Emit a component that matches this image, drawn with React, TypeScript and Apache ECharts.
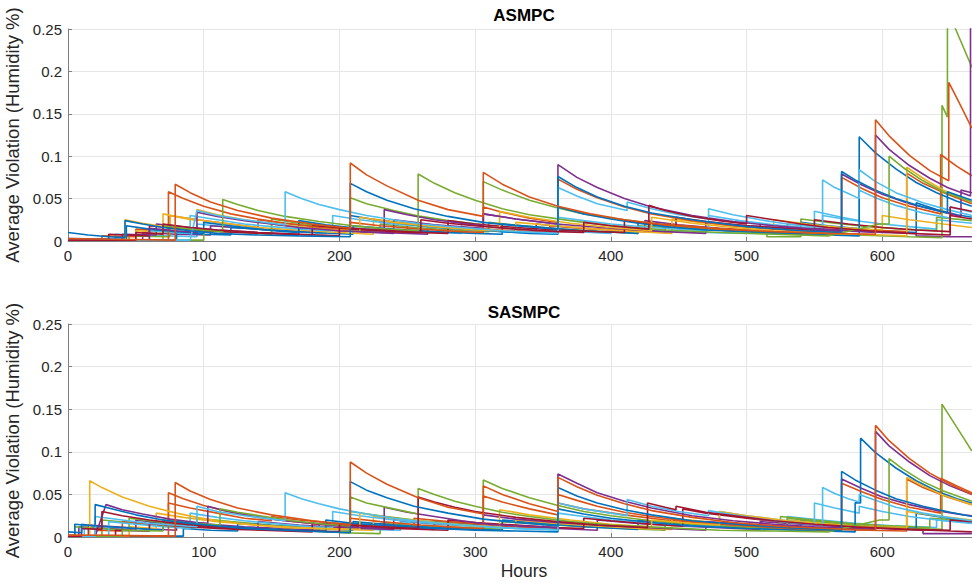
import React, { useEffect, useRef } from "react";
import * as echarts from "echarts";

// ---------- tick labels / axes ----------
const xTicks = [0, 100, 200, 300, 400, 500, 600];
const yTicks = [0, 0.05, 0.1, 0.15, 0.2, 0.25];
const panelTitles = ["ASMPC", "SASMPC"];
const xLabel = "Hours";
const yLabel = "Average Violation (Humidity %)";

// ---------- ASMPC series (flat x,y pairs) ----------
const aBlue1 = [0,0.010, 15,0.007, 30,0.005, 42,0.004, 42,0.024, 55,0.020, 70,0.016, 90,0.012, 110,0.009, 140,0.007, 170,0.006, 208,0.005, 208,0.068, 220,0.058, 235,0.048, 255,0.038, 280,0.029, 306,0.022, 330,0.018, 361,0.014, 361,0.076, 375,0.063, 390,0.052, 410,0.041, 430,0.033, 460,0.025, 500,0.017, 540,0.012, 570,0.010, 570,0.082, 580,0.072, 595,0.060, 610,0.050, 630,0.040, 648,0.033, 648,0.058, 666,0.048];
const aOrange1 = [0,0.003, 30,0.002, 79,0.001, 79,0.067, 90,0.057, 105,0.046, 125,0.036, 150,0.027, 180,0.020, 208,0.015, 208,0.092, 220,0.078, 235,0.065, 258,0.048, 280,0.037, 306,0.029, 306,0.081, 320,0.067, 340,0.052, 361,0.041, 385,0.032, 410,0.025, 440,0.019, 480,0.014, 520,0.011, 560,0.009, 595,0.008, 595,0.143, 605,0.124, 620,0.101, 635,0.083, 649,0.071, 649,0.187, 657,0.162, 666,0.133];
const aYellow1 = [0,0.002, 42,0.001, 42,0.025, 55,0.021, 70,0.017, 70,0.032, 85,0.027, 95,0.024, 95,0.037, 110,0.031, 130,0.025, 150,0.020, 180,0.015, 215,0.011, 215,0.028, 240,0.022, 270,0.017, 300,0.013, 318,0.012, 318,0.035, 340,0.028, 370,0.021, 400,0.016, 430,0.012, 430,0.028, 460,0.021, 490,0.016, 520,0.012, 560,0.009, 600,0.007, 618,0.006, 618,0.087, 630,0.074, 645,0.060, 666,0.046];
const aPurple1 = [0,0.002, 60,0.001, 60,0.015, 80,0.012, 95,0.010, 95,0.034, 110,0.029, 130,0.024, 150,0.020, 170,0.016, 200,0.012, 233,0.010, 233,0.037, 250,0.031, 270,0.025, 290,0.021, 306,0.018, 306,0.032, 330,0.026, 361,0.020, 361,0.090, 375,0.075, 390,0.063, 410,0.050, 430,0.040, 460,0.030, 490,0.023, 520,0.018, 550,0.014, 595,0.010, 595,0.125, 605,0.108, 620,0.089, 635,0.074, 648,0.063, 665,0.053, 665,0.300];
const aGreen1 = [0,0.001, 70,0.001, 70,0.018, 90,0.014, 114,0.011, 114,0.049, 125,0.043, 140,0.036, 160,0.029, 185,0.023, 210,0.018, 235,0.014, 258,0.012, 258,0.079, 270,0.068, 285,0.057, 300,0.048, 320,0.038, 340,0.031, 370,0.024, 400,0.018, 440,0.013, 480,0.010, 520,0.008, 560,0.006, 598,0.020, 605,0.020, 605,0.100, 615,0.087, 630,0.071, 645,0.058, 666,0.046];
const aCyan1 = [0,0.001, 90,0.001, 95,0.036, 110,0.030, 130,0.025, 160,0.019, 160,0.058, 172,0.050, 185,0.043, 200,0.037, 220,0.030, 240,0.025, 260,0.020, 290,0.016, 320,0.012, 361,0.009, 361,0.063, 375,0.053, 390,0.044, 412,0.036, 412,0.046, 430,0.038, 450,0.031, 472,0.026, 472,0.038, 490,0.031, 510,0.025, 530,0.020, 556,0.016, 556,0.072, 565,0.063, 575,0.056, 583,0.050, 583,0.084, 595,0.070, 610,0.057, 630,0.045, 648,0.037, 666,0.030];
const aRed1 = [0,0.001, 50,0.001, 50,0.010, 70,0.008, 70,0.020, 90,0.016, 110,0.013, 140,0.010, 170,0.008, 200,0.006, 200,0.016, 230,0.013, 260,0.010, 260,0.025, 280,0.021, 300,0.018, 330,0.014, 360,0.011, 380,0.010, 380,0.022, 400,0.018, 428,0.014, 428,0.042, 440,0.036, 460,0.029, 480,0.024, 500,0.020, 500,0.030, 520,0.025, 540,0.020, 560,0.016, 590,0.012, 620,0.009, 650,0.007, 650,0.040, 666,0.035];
const aBlue2 = [0,0.003, 43,0.002, 43,0.018, 60,0.014, 80,0.011, 100,0.009, 100,0.022, 120,0.018, 140,0.014, 160,0.011, 170,0.010, 170,0.024, 190,0.019, 208,0.016, 208,0.030, 230,0.024, 255,0.019, 280,0.015, 310,0.012, 340,0.009, 361,0.008, 361,0.040, 380,0.032, 400,0.026, 420,0.021, 440,0.017, 470,0.013, 500,0.011, 530,0.009, 560,0.007, 583,0.006, 583,0.123, 595,0.104, 610,0.085, 625,0.069, 640,0.057, 655,0.047, 666,0.041];
const aOrange2 = [0,0.002, 74,0.001, 74,0.058, 85,0.050, 100,0.041, 120,0.032, 140,0.026, 160,0.021, 185,0.016, 208,0.013, 208,0.022, 230,0.018, 260,0.014, 290,0.011, 306,0.010, 306,0.040, 320,0.034, 340,0.027, 361,0.022, 361,0.073, 375,0.061, 390,0.051, 410,0.040, 430,0.032, 460,0.024, 490,0.018, 520,0.014, 550,0.011, 570,0.010, 570,0.075, 585,0.062, 600,0.051, 620,0.041, 643,0.032, 643,0.102, 655,0.088, 666,0.077];
const aGreen2 = [0,0.001, 100,0.001, 100,0.012, 130,0.010, 150,0.008, 150,0.026, 170,0.021, 190,0.017, 208,0.015, 208,0.051, 220,0.044, 240,0.036, 260,0.029, 280,0.024, 306,0.019, 306,0.070, 320,0.060, 340,0.048, 361,0.039, 380,0.032, 400,0.027, 430,0.021, 460,0.016, 500,0.012, 540,0.009, 580,0.007, 620,0.005, 644,0.004, 644,0.160, 648,0.146, 648,0.270, 654,0.250, 666,0.205];
const aCyan2 = [0,0.001, 60,0.001, 60,0.012, 90,0.009, 90,0.030, 110,0.025, 130,0.020, 150,0.017, 180,0.013, 195,0.012, 195,0.030, 215,0.025, 240,0.020, 270,0.016, 300,0.013, 330,0.010, 361,0.009, 361,0.028, 380,0.024, 400,0.020, 430,0.016, 460,0.013, 472,0.012, 472,0.030, 495,0.024, 520,0.019, 550,0.015, 550,0.035, 570,0.028, 583,0.024, 583,0.060, 595,0.051, 610,0.042, 630,0.033, 650,0.027, 650,0.040, 666,0.034];
const aPurple2 = [0,0.001, 40,0.001, 40,0.008, 65,0.007, 65,0.020, 90,0.016, 110,0.013, 140,0.010, 170,0.008, 170,0.015, 200,0.012, 240,0.009, 240,0.025, 270,0.019, 306,0.015, 306,0.032, 330,0.026, 360,0.020, 400,0.015, 440,0.011, 470,0.009, 470,0.022, 500,0.018, 540,0.014, 570,0.011, 570,0.079, 585,0.066, 600,0.055, 620,0.044, 640,0.036, 658,0.029, 658,0.060, 666,0.057];
const aRed2 = [0,0.001, 30,0.001, 30,0.008, 60,0.006, 60,0.018, 80,0.015, 100,0.012, 125,0.010, 160,0.008, 180,0.007, 180,0.018, 210,0.014, 240,0.011, 280,0.009, 280,0.024, 300,0.020, 330,0.016, 360,0.013, 390,0.011, 410,0.010, 410,0.024, 430,0.020, 448,0.018, 448,0.028, 470,0.023, 500,0.018, 530,0.015, 550,0.013, 550,0.025, 575,0.020, 600,0.016, 625,0.013, 650,0.011, 650,0.030, 666,0.026];
const aYellow2 = [0,0.001, 50,0.001, 50,0.012, 75,0.010, 75,0.030, 95,0.025, 120,0.020, 140,0.016, 170,0.013, 200,0.010, 225,0.008, 225,0.026, 245,0.022, 270,0.018, 300,0.014, 330,0.011, 330,0.022, 360,0.018, 390,0.014, 420,0.011, 445,0.009, 445,0.026, 470,0.021, 500,0.016, 520,0.014, 520,0.025, 545,0.020, 570,0.016, 600,0.013, 600,0.030, 620,0.025, 645,0.020, 666,0.016];
const aBlue3 = [0,0.001, 80,0.001, 80,0.010, 100,0.008, 120,0.007, 120,0.016, 150,0.013, 180,0.010, 210,0.008, 210,0.018, 240,0.014, 270,0.011, 300,0.009, 320,0.008, 320,0.020, 350,0.016, 380,0.012, 420,0.009, 420,0.022, 450,0.017, 480,0.013, 510,0.010, 540,0.008, 540,0.022, 560,0.018, 580,0.015, 600,0.012, 625,0.010, 625,0.045, 640,0.037, 655,0.031, 666,0.028];
const aOrange3 = [0,0.001, 25,0.001, 25,0.006, 50,0.005, 50,0.014, 75,0.011, 75,0.030, 95,0.025, 120,0.020, 140,0.016, 140,0.025, 160,0.021, 190,0.016, 220,0.013, 250,0.010, 250,0.022, 275,0.018, 300,0.015, 330,0.012, 355,0.010, 355,0.018, 380,0.015, 410,0.012, 440,0.010, 440,0.020, 470,0.016, 500,0.013, 530,0.010, 530,0.020, 560,0.016, 590,0.013, 618,0.011, 618,0.080, 630,0.068, 648,0.055, 666,0.044];
const aCyan3 = [0,0.001, 35,0.001, 35,0.008, 55,0.007, 95,0.005, 95,0.020, 115,0.017, 140,0.014, 165,0.011, 190,0.009, 190,0.018, 215,0.015, 245,0.012, 275,0.010, 290,0.009, 290,0.020, 315,0.016, 345,0.013, 375,0.011, 400,0.009, 400,0.016, 430,0.013, 470,0.010, 500,0.009, 500,0.018, 530,0.015, 556,0.012, 556,0.030, 575,0.025, 600,0.020, 620,0.017, 640,0.014, 640,0.025, 666,0.021];
const aPurple3 = [0,0.001, 55,0.001, 55,0.010, 80,0.008, 105,0.007, 105,0.018, 130,0.015, 160,0.012, 185,0.010, 185,0.014, 215,0.011, 250,0.009, 265,0.008, 265,0.018, 290,0.015, 320,0.012, 345,0.010, 345,0.020, 370,0.016, 400,0.013, 425,0.011, 425,0.024, 450,0.019, 480,0.015, 510,0.012, 510,0.020, 540,0.016, 570,0.013, 600,0.010, 625,0.009, 625,0.006, 650,0.005, 666,0.005];
const aGreen3 = [0,0.001, 45,0.001, 45,0.006, 75,0.005, 75,0.016, 100,0.013, 125,0.011, 150,0.009, 150,0.020, 175,0.016, 205,0.013, 230,0.011, 230,0.020, 255,0.016, 285,0.013, 310,0.011, 310,0.022, 335,0.018, 365,0.014, 395,0.011, 420,0.009, 420,0.018, 450,0.015, 485,0.012, 515,0.010, 515,0.005, 540,0.005, 540,0.026, 565,0.021, 590,0.017, 615,0.014, 640,0.012, 640,0.028, 666,0.024];

// ---------- SASMPC series (flat x,y pairs) ----------
const sBlue1 = [0,0.006, 10,0.005, 10,0.015, 20,0.013, 20,0.038, 35,0.032, 50,0.026, 70,0.020, 90,0.016, 110,0.013, 130,0.010, 160,0.008, 190,0.006, 208,0.005, 208,0.065, 220,0.055, 235,0.046, 255,0.036, 280,0.028, 306,0.021, 330,0.017, 361,0.013, 361,0.058, 375,0.048, 390,0.040, 410,0.032, 430,0.026, 460,0.019, 500,0.014, 540,0.010, 570,0.008, 570,0.077, 580,0.067, 595,0.055, 610,0.045, 630,0.036, 650,0.029, 666,0.024];
const sOrange1 = [0,0.002, 30,0.002, 79,0.001, 79,0.064, 90,0.054, 105,0.044, 125,0.034, 150,0.026, 180,0.019, 208,0.014, 208,0.088, 220,0.075, 235,0.062, 258,0.046, 280,0.035, 306,0.027, 306,0.060, 320,0.050, 340,0.039, 361,0.030, 361,0.070, 375,0.059, 390,0.049, 410,0.039, 430,0.031, 460,0.023, 490,0.017, 530,0.012, 560,0.010, 595,0.008, 595,0.131, 605,0.113, 620,0.092, 635,0.075, 650,0.062, 666,0.050];
const sYellow1 = [0,0.001, 16,0.001, 16,0.066, 25,0.058, 40,0.047, 60,0.036, 80,0.028, 95,0.023, 110,0.019, 130,0.015, 160,0.011, 215,0.009, 215,0.028, 240,0.022, 270,0.017, 300,0.013, 318,0.012, 318,0.032, 340,0.026, 370,0.020, 400,0.015, 430,0.012, 430,0.020, 460,0.016, 480,0.014, 480,0.030, 500,0.025, 530,0.019, 560,0.015, 600,0.011, 618,0.010, 618,0.070, 630,0.060, 645,0.049, 666,0.038];
const sPurple1 = [0,0.001, 20,0.001, 28,0.038, 40,0.032, 55,0.027, 75,0.021, 95,0.017, 103,0.016, 103,0.036, 115,0.031, 135,0.025, 155,0.020, 180,0.016, 205,0.012, 233,0.010, 233,0.035, 250,0.029, 270,0.024, 290,0.019, 310,0.015, 330,0.013, 361,0.011, 361,0.074, 375,0.063, 390,0.052, 410,0.042, 430,0.034, 460,0.025, 490,0.019, 520,0.015, 550,0.012, 595,0.009, 595,0.124, 605,0.107, 620,0.088, 635,0.072, 650,0.060, 666,0.050];
const sGreen1 = [0,0.001, 40,0.001, 40,0.008, 70,0.007, 70,0.020, 90,0.016, 112,0.014, 112,0.033, 125,0.029, 145,0.024, 165,0.019, 190,0.015, 208,0.013, 208,0.047, 220,0.040, 240,0.033, 258,0.027, 258,0.057, 270,0.050, 285,0.042, 300,0.036, 320,0.029, 340,0.024, 370,0.018, 400,0.014, 440,0.011, 480,0.008, 520,0.007, 560,0.006, 598,0.020, 605,0.020, 605,0.092, 615,0.080, 630,0.065, 645,0.054, 666,0.042];
const sCyan1 = [0,0.001, 20,0.001, 20,0.024, 40,0.020, 60,0.016, 95,0.012, 95,0.036, 110,0.030, 130,0.025, 160,0.019, 160,0.052, 172,0.045, 185,0.039, 200,0.033, 220,0.027, 240,0.022, 260,0.018, 290,0.014, 320,0.011, 361,0.008, 361,0.040, 380,0.033, 400,0.028, 412,0.025, 412,0.044, 430,0.036, 450,0.030, 472,0.025, 472,0.031, 490,0.026, 510,0.021, 530,0.017, 556,0.014, 556,0.058, 565,0.051, 575,0.045, 583,0.041, 583,0.050, 595,0.043, 610,0.035, 630,0.028, 648,0.023, 666,0.019];
const sRed1 = [0,0.001, 10,0.001, 10,0.010, 25,0.009, 25,0.030, 40,0.025, 60,0.020, 80,0.016, 100,0.013, 130,0.010, 160,0.008, 200,0.006, 200,0.015, 230,0.012, 258,0.010, 258,0.047, 270,0.041, 285,0.035, 300,0.030, 330,0.023, 360,0.018, 390,0.014, 427,0.011, 427,0.040, 440,0.035, 448,0.032, 448,0.036, 470,0.029, 500,0.023, 520,0.019, 550,0.015, 580,0.012, 620,0.009, 650,0.007, 666,0.006];
const sBlue2 = [0,0.002, 5,0.002, 5,0.015, 20,0.013, 40,0.011, 60,0.009, 70,0.008, 70,0.020, 90,0.016, 110,0.013, 140,0.010, 170,0.008, 190,0.007, 190,0.020, 210,0.016, 240,0.013, 270,0.010, 300,0.008, 330,0.007, 361,0.006, 361,0.033, 380,0.027, 400,0.022, 430,0.017, 460,0.013, 500,0.010, 540,0.008, 580,0.006, 580,0.040, 584,0.040, 584,0.116, 595,0.099, 610,0.081, 625,0.066, 640,0.054, 655,0.045, 666,0.040];
const sOrange2 = [0,0.002, 74,0.001, 74,0.052, 85,0.045, 100,0.037, 120,0.029, 140,0.023, 160,0.019, 185,0.015, 208,0.012, 208,0.022, 230,0.018, 260,0.014, 290,0.011, 306,0.010, 306,0.048, 320,0.041, 340,0.033, 361,0.026, 361,0.050, 375,0.043, 390,0.036, 410,0.029, 430,0.024, 460,0.018, 490,0.014, 520,0.011, 550,0.009, 570,0.008, 570,0.063, 585,0.053, 600,0.044, 620,0.035, 643,0.028, 643,0.069, 655,0.060, 666,0.052];
const sGreen2 = [0,0.001, 5,0.001, 5,0.012, 25,0.010, 45,0.008, 45,0.022, 65,0.018, 85,0.015, 110,0.012, 140,0.009, 170,0.007, 208,0.006, 208,0.030, 230,0.025, 260,0.019, 290,0.015, 306,0.013, 306,0.067, 320,0.057, 340,0.046, 361,0.037, 380,0.030, 400,0.025, 430,0.019, 460,0.015, 500,0.011, 530,0.010, 530,0.022, 560,0.017, 590,0.013, 620,0.010, 644,0.009, 644,0.156, 650,0.141, 660,0.116, 666,0.101];
const sCyan2 = [0,0.001, 30,0.001, 30,0.018, 50,0.015, 70,0.012, 90,0.010, 90,0.028, 110,0.023, 130,0.019, 150,0.016, 180,0.012, 195,0.011, 195,0.030, 215,0.025, 240,0.020, 270,0.016, 300,0.013, 330,0.010, 361,0.009, 361,0.028, 380,0.024, 400,0.020, 430,0.016, 460,0.013, 480,0.012, 480,0.030, 500,0.025, 525,0.020, 550,0.016, 550,0.040, 565,0.034, 583,0.028, 583,0.036, 600,0.030, 620,0.024, 645,0.019, 666,0.016];
const sPurple2 = [0,0.001, 8,0.001, 8,0.012, 30,0.010, 50,0.008, 50,0.020, 70,0.016, 90,0.013, 115,0.011, 140,0.009, 140,0.018, 170,0.014, 200,0.011, 240,0.009, 240,0.020, 270,0.016, 306,0.013, 306,0.026, 330,0.021, 360,0.017, 400,0.013, 440,0.010, 470,0.008, 470,0.018, 500,0.015, 540,0.012, 570,0.010, 570,0.068, 585,0.057, 600,0.047, 620,0.038, 640,0.031, 660,0.026, 666,0.025];
const sRed2 = [0,0.001, 35,0.001, 35,0.008, 60,0.007, 60,0.016, 80,0.013, 100,0.011, 125,0.009, 160,0.007, 180,0.006, 180,0.016, 210,0.013, 240,0.010, 280,0.008, 280,0.020, 300,0.017, 330,0.014, 360,0.011, 380,0.010, 380,0.022, 400,0.019, 430,0.015, 453,0.013, 453,0.033, 470,0.028, 500,0.022, 530,0.017, 560,0.014, 590,0.011, 620,0.009, 650,0.008, 650,0.020, 666,0.018];
const sYellow2 = [0,0.001, 45,0.001, 45,0.012, 65,0.010, 65,0.028, 85,0.023, 110,0.018, 140,0.014, 170,0.011, 200,0.009, 225,0.008, 225,0.024, 245,0.020, 270,0.016, 300,0.013, 330,0.010, 330,0.020, 360,0.016, 390,0.013, 420,0.010, 445,0.009, 445,0.022, 470,0.018, 500,0.014, 530,0.012, 530,0.020, 560,0.016, 590,0.013, 618,0.011, 618,0.030, 640,0.025, 666,0.020];
const sBlue3 = [0,0.001, 85,0.001, 85,0.010, 105,0.008, 125,0.007, 125,0.016, 155,0.013, 180,0.010, 210,0.008, 210,0.018, 240,0.014, 270,0.011, 300,0.009, 320,0.008, 320,0.020, 350,0.016, 380,0.012, 420,0.009, 420,0.020, 450,0.016, 480,0.012, 510,0.010, 540,0.008, 540,0.020, 560,0.016, 580,0.014, 600,0.012, 625,0.010, 625,0.028, 645,0.023, 666,0.019];
const sOrange3 = [0,0.001, 20,0.001, 20,0.008, 40,0.007, 40,0.018, 60,0.015, 74,0.013, 74,0.040, 90,0.034, 110,0.028, 130,0.022, 150,0.019, 150,0.024, 170,0.020, 200,0.016, 230,0.013, 255,0.011, 255,0.022, 280,0.018, 306,0.015, 330,0.012, 361,0.010, 361,0.040, 380,0.033, 410,0.026, 440,0.020, 470,0.016, 500,0.013, 530,0.010, 560,0.009, 590,0.008, 618,0.007, 618,0.068, 630,0.058, 648,0.047, 666,0.038];
const sCyan3 = [0,0.001, 12,0.001, 12,0.010, 35,0.008, 60,0.007, 60,0.018, 85,0.015, 110,0.012, 135,0.010, 160,0.008, 160,0.014, 190,0.011, 220,0.009, 245,0.008, 245,0.018, 270,0.015, 300,0.012, 330,0.010, 350,0.009, 350,0.016, 380,0.013, 410,0.011, 440,0.009, 440,0.020, 470,0.016, 500,0.013, 530,0.011, 530,0.024, 555,0.020, 580,0.016, 610,0.013, 640,0.011, 640,0.020, 666,0.017];
const sPurple3 = [0,0.001, 15,0.001, 15,0.014, 35,0.012, 55,0.010, 80,0.008, 80,0.018, 105,0.015, 130,0.012, 160,0.010, 185,0.008, 185,0.016, 215,0.013, 245,0.011, 270,0.009, 270,0.018, 300,0.015, 330,0.012, 360,0.010, 390,0.008, 390,0.020, 420,0.016, 450,0.013, 480,0.011, 510,0.009, 510,0.018, 540,0.015, 570,0.012, 600,0.010, 630,0.008, 630,0.004, 666,0.004];
const sGreen3 = [0,0.001, 25,0.001, 25,0.020, 45,0.017, 70,0.013, 95,0.011, 95,0.022, 120,0.018, 150,0.014, 180,0.011, 200,0.010, 200,0.005, 230,0.004, 230,0.016, 260,0.013, 290,0.011, 320,0.009, 320,0.018, 350,0.015, 380,0.012, 410,0.010, 440,0.008, 440,0.016, 470,0.013, 500,0.011, 525,0.009, 525,0.024, 550,0.020, 575,0.016, 605,0.013, 635,0.011, 635,0.022, 666,0.019];

// MATLAB default line colours
const C = {
  blue: "#0072BD",
  orange: "#D95319",
  yellow: "#EDB120",
  purple: "#7E2F8E",
  green: "#77AC30",
  cyan: "#4DBEEE",
  red: "#A2142F",
};

const panelA: [number[], string][] = [
  [aCyan3, C.cyan], [aPurple3, C.purple], [aGreen3, C.green],
  [aBlue3, C.blue], [aOrange3, C.orange], [aYellow2, C.yellow], [aPurple2, C.purple], [aGreen2, C.green], [aCyan2, C.cyan], [aRed2, C.red],
  [aBlue2, C.blue], [aOrange2, C.orange], [aYellow1, C.yellow], [aPurple1, C.purple], [aGreen1, C.green], [aCyan1, C.cyan], [aRed1, C.red],
  [aBlue1, C.blue], [aOrange1, C.orange],
];
const panelS: [number[], string][] = [
  [sCyan3, C.cyan], [sPurple3, C.purple], [sGreen3, C.green],
  [sBlue3, C.blue], [sOrange3, C.orange], [sYellow2, C.yellow], [sPurple2, C.purple], [sGreen2, C.green], [sCyan2, C.cyan], [sRed2, C.red],
  [sBlue2, C.blue], [sOrange2, C.orange], [sYellow1, C.yellow], [sPurple1, C.purple], [sGreen1, C.green], [sCyan1, C.cyan], [sRed1, C.red],
  [sBlue1, C.blue], [sOrange1, C.orange],
];

const toPairs = (flat: number[]) => {
  const out: number[][] = [];
  for (let i = 0; i < flat.length; i += 2) out.push([flat[i], flat[i + 1]]);
  return out;
};

const FONT = "Liberation Sans, Arial, Helvetica, sans-serif";
const X_MAX = 672;

export default function App() {
  const ref = useRef<HTMLDivElement>(null);
  useEffect(() => {
    if (!ref.current) return;
    const chart = echarts.init(ref.current, null, { renderer: "svg" });
    const grids = [
      { left: 68, right: -8, top: 29, height: 212, outerBoundsMode: "none", containLabel: false },
      { left: 68, right: -8, top: 324, height: 213, outerBoundsMode: "none", containLabel: false },
    ];
    const mkX = (i: number) => ({
      type: "value",
      gridIndex: i,
      min: xTicks[0],
      max: X_MAX,
      interval: xTicks[1] - xTicks[0],
      name: i === 1 ? xLabel : "",
      nameLocation: "middle",
      nameGap: 25,
      nameTextStyle: { fontFamily: FONT, fontSize: 17.5, color: "#262626" },
      axisLine: { show: true, lineStyle: { color: "#7f7f7f", width: 1 } },
      axisTick: { show: true, inside: true, length: 4, lineStyle: { color: "#7f7f7f" } },
      axisLabel: { fontFamily: FONT, fontSize: 15, color: "#262626", margin: 7, showMaxLabel: false },
      splitLine: { show: true, lineStyle: { color: "#e6e6e6", width: 1 } },
    });
    const mkY = (i: number) => ({
      type: "value",
      gridIndex: i,
      min: yTicks[0],
      max: yTicks[yTicks.length - 1],
      interval: yTicks[1] - yTicks[0],
      name: yLabel,
      nameLocation: "middle",
      nameRotate: 90,
      nameGap: 40,
      nameTextStyle: { fontFamily: FONT, fontSize: 18.5, color: "#262626" },
      axisLine: { show: true, lineStyle: { color: "#7f7f7f", width: 1 } },
      axisTick: { show: true, inside: true, length: 4, lineStyle: { color: "#7f7f7f" } },
      axisLabel: {
        fontFamily: FONT, fontSize: 15, color: "#262626", margin: 6,
        formatter: (v: number) => String(parseFloat(v.toFixed(3))),
      },
      splitLine: { show: true, lineStyle: { color: "#e6e6e6", width: 1 } },
    });
    const series: any[] = [];
    [panelA, panelS].forEach((panel, pi) => {
      panel.forEach(([flat, color]) => {
        series.push({
          type: "line",
          xAxisIndex: pi,
          yAxisIndex: pi,
          data: toPairs(flat),
          showSymbol: false,
          symbol: "none",
          clip: true,
          lineStyle: { color, width: 1.6 },
          itemStyle: { color },
          silent: true,
        });
      });
    });
    chart.setOption({
      animation: false,
      backgroundColor: "#ffffff",
      grid: grids,
      xAxis: [mkX(0), mkX(1)],
      yAxis: [mkY(0), mkY(1)],
      graphic: [
        { type: "text", x: 524, y: 15, style: { text: panelTitles[0], fontFamily: FONT, fontSize: 17, fontWeight: "bold", fill: "#000", align: "center", verticalAlign: "middle" } },
        { type: "text", x: 524, y: 312, style: { text: panelTitles[1], fontFamily: FONT, fontSize: 17, fontWeight: "bold", fill: "#000", align: "center", verticalAlign: "middle" } },
      ],
      series,
    });
    return () => chart.dispose();
  }, []);
  return (
    <div
      ref={ref}
      style={{ position: "fixed", left: 0, top: 0, width: 972, height: 583, background: "#fff" }}
    />
  );
}
